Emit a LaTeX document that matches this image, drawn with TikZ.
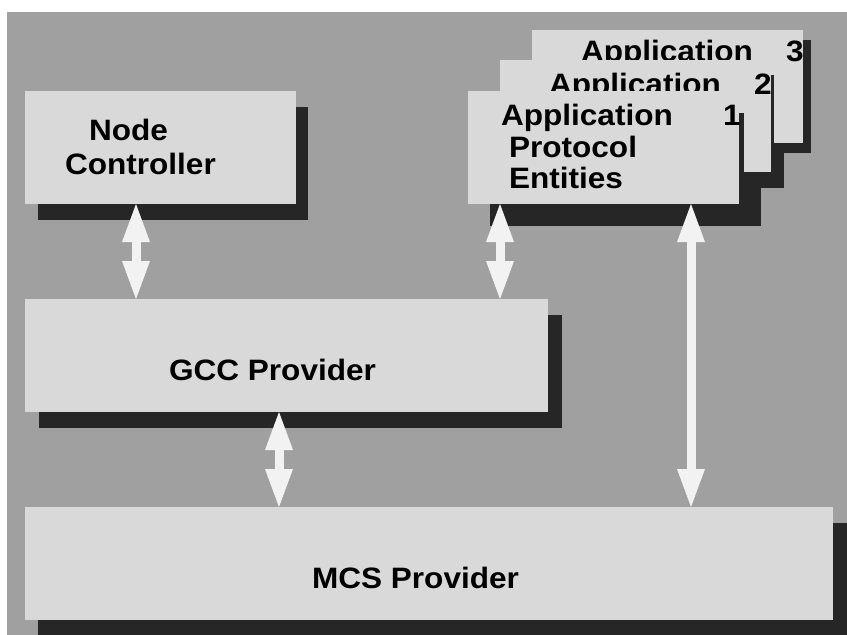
\documentclass[tikz,border=0pt]{standalone}
\usepackage{fontspec}
\newfontfamily\lblfont{Liberation Sans}[FakeStretch=1.07]
\usetikzlibrary{arrows.meta}
\definecolor{bgGray}{HTML}{A0A0A0}
\definecolor{boxGray}{HTML}{D9D9D9}
\definecolor{shadowDark}{HTML}{262626}
\definecolor{arrowWhite}{HTML}{F2F2F2}
\tikzset{
  box/.style={fill=boxGray, inner sep=0pt, outer sep=0pt, anchor=north west,
    minimum height=113pt},
  shade/.style={fill=shadowDark},
  lbl/.style={anchor=base west, inner sep=0pt, outer sep=0pt,
    font=\lblfont\bfseries\fontsize{29.5pt}{32pt}\selectfont},
  biarrow/.style={draw=arrowWhite, line width=9pt,
    {Triangle[width=28pt,length=38pt,line width=0pt,fill=arrowWhite]}-{Triangle[width=28pt,length=38pt,line width=0pt,fill=arrowWhite]}}
}
\begin{document}
\begin{tikzpicture}[x=1pt,y=-1pt]
\useasboundingbox (0,0) rectangle (847,635);
\fill[white] (0,0) rectangle (847,635);
\fill[bgGray] (7,12) rectangle (847,635);

% drop shadows of the three stacked layers
\fill[shade] (38,107) rectangle (308,220);
\fill[shade] (39,315) rectangle (562,428);
\fill[shade] (38,523) rectangle (847,635);

% node controller
\node[box, minimum width=271pt] (nc) at (25,91) {};
\node[lbl] (ncA) at (89,140) {Node};
\node[lbl] (ncB) at (65,174) {Controller};

% GCC provider
\node[box, minimum width=523pt] (gcc) at (25,299) {};
\node[lbl] (gccT) at (169,380) {GCC Provider};

% MCS provider
\node[box, minimum width=808pt] (mcs) at (25,507) {};
\node[lbl] (mcsT) at (312,588) {MCS Provider};

% application protocol entities, back to front
\fill[shade] (545,40) rectangle (811,153);
\node[box, minimum width=271pt] (app3) at (532,30) {};
\node[lbl] (app3A) at (581,61) {Application};
\node[lbl] (app3N) at (786,61) {3};

\fill[shade] (771,75) rectangle (774,143);
\fill[shade] (513,143) rectangle (784,188);
\node[box, minimum width=271pt, minimum height=112pt] (app2) at (500,60) {};
\node[lbl] (app2A) at (549,94) {Application};
\node[lbl] (app2N) at (754,94) {2};

\fill[shade] (739,113) rectangle (744,172);
\fill[shade] (490,172) rectangle (761,226);
\node[box, minimum width=271pt] (app1) at (468,91) {};
\node[lbl] (app1A) at (501,125) {Application};
\node[lbl] (app1N) at (723,125) {1};
\node[lbl] (app1B) at (509,157) {Protocol};
\node[lbl] (app1C) at (509,188) {Entities};

% two-way connectors
\coordinate (ax1) at (136,0);
\coordinate (ax2) at (500,0);
\coordinate (ax3) at (279,0);
\coordinate (ax4) at (691,0);
\draw[biarrow] (ax1 |- nc.south) -- (ax1 |- gcc.north);
\draw[biarrow] (ax2 |- app1.south) -- (ax2 |- gcc.north);
\draw[biarrow] (ax3 |- gcc.south) -- (ax3 |- mcs.north);
\draw[biarrow] (ax4 |- app1.south) -- (ax4 |- mcs.north);
\end{tikzpicture}
\end{document}
